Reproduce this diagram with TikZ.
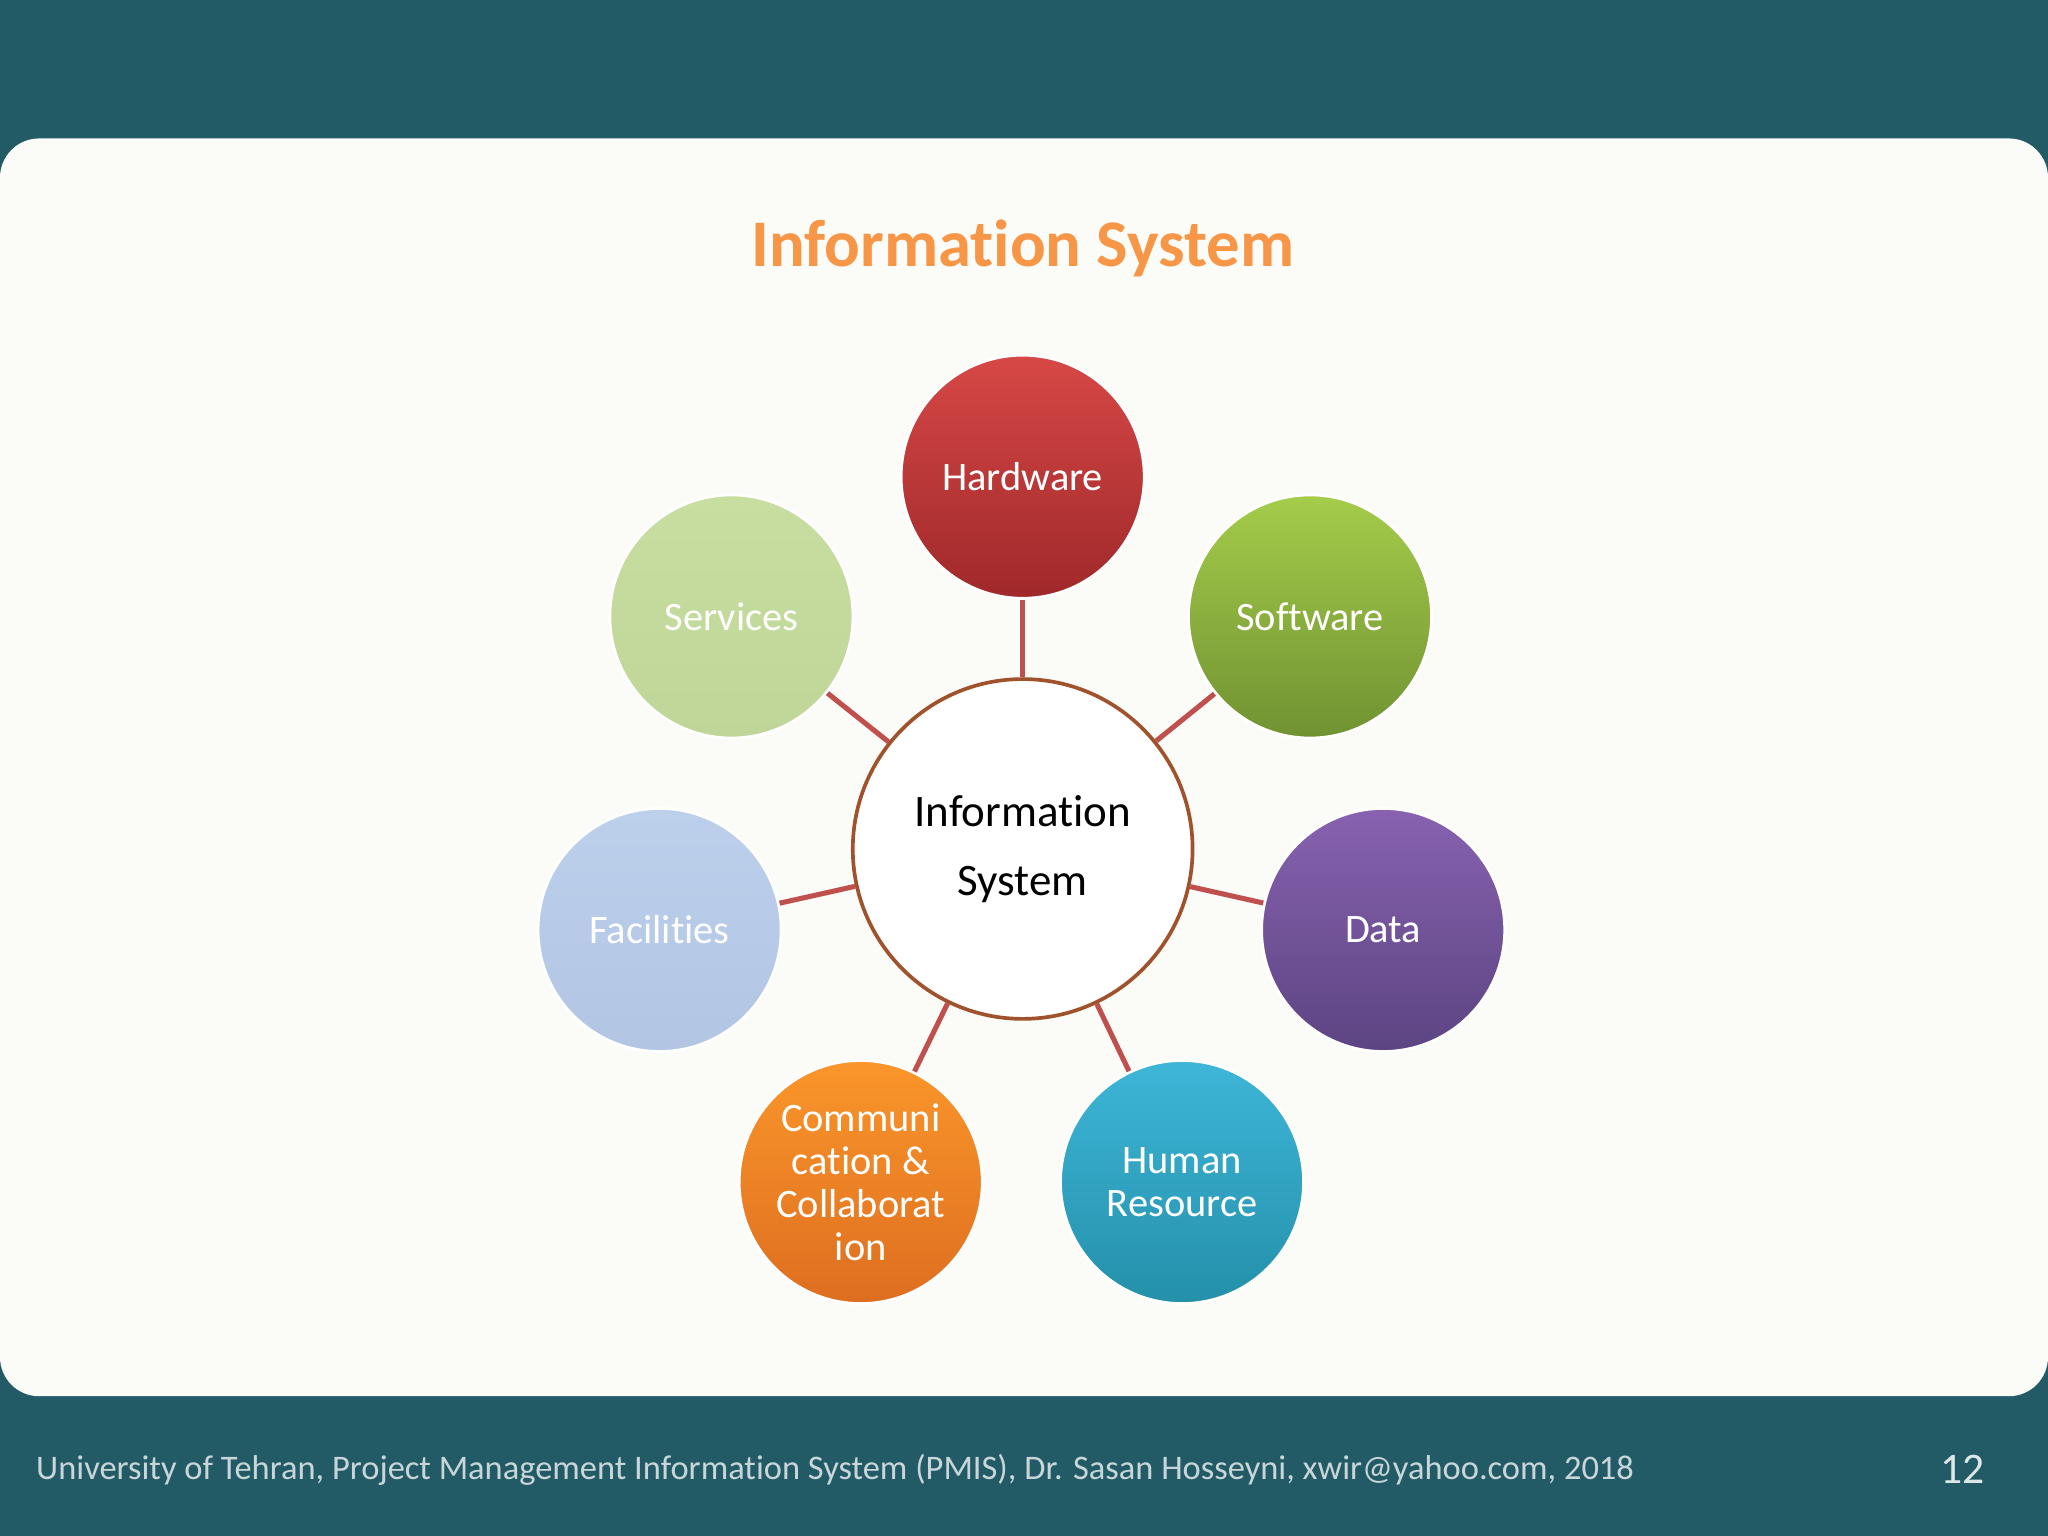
\documentclass[tikz,border=0pt]{standalone}
\usepackage{fontspec}
\setmainfont[RawFeature=-liga]{Carlito}
\definecolor{bgteal}{HTML}{225B66}
\definecolor{panel}{HTML}{FBFBF7}
\definecolor{ttl}{HTML}{F79646}
\definecolor{con}{HTML}{C0504D}
\definecolor{rim}{HTML}{A0522D}
\tikzset{
  ball/.style={circle,minimum size=1.86cm,inner sep=0pt,text=white,font=\fontsize{8.8}{9.4}\selectfont,align=center,draw=white,line width=0.6pt},
  link/.style={draw=con,line width=1.1pt}
}
\begin{document}
\begin{tikzpicture}[x=0.01cm,y=-0.01cm]
\useasboundingbox (0,0) rectangle (1568,1176);
\fill[bgteal] (0,0) rectangle (1568,1176);
\fill[panel,rounded corners=0.3cm] (0,106) rectangle (1568,1069);
\node[text=ttl,font=\fontsize{14.5}{17}\selectfont\bfseries] (title) at (783,190) {Information System};
\node[circle,minimum size=2.6cm,inner sep=0pt,draw=rim,line width=0.8pt,fill=white,align=center,font=\fontsize{9.8}{15}\selectfont] (c) at (783,650) {Information\\System};
\node[ball,top color={rgb,255:red,214;green,72;blue,70},bottom color={rgb,255:red,160;green,40;blue,42}] (hw) at (783,365) {Hardware};
\node[ball,top color={rgb,255:red,165;green,204;blue,74},bottom color={rgb,255:red,112;green,146;blue,50}] (sw) at (1003,472) {Software};
\node[ball,top color={rgb,255:red,136;green,98;blue,176},bottom color={rgb,255:red,92;green,68;blue,130}] (da) at (1059,712) {Data};
\node[ball,top color={rgb,255:red,62;green,182;blue,216},bottom color={rgb,255:red,36;green,144;blue,170}] (hr) at (905,905) {Human\\Resource};
\node[ball,top color={rgb,255:red,250;green,150;blue,42},bottom color={rgb,255:red,222;green,110;blue,32}] (cc) at (659,905) {Communi\\cation \&\\Collaborat\\ion};
\node[ball,top color={rgb,255:red,188;green,208;blue,236},bottom color={rgb,255:red,178;green,198;blue,228}] (fa) at (505,712) {Facilities};
\node[ball,top color={rgb,255:red,200;green,222;blue,160},bottom color={rgb,255:red,192;green,214;blue,152}] (se) at (560,472) {Services};
\foreach \n in {hw,sw,da,hr,cc,fa,se} \draw[link] (c) -- (\n);
\node[anchor=west,inner sep=0pt,text=white!75!bgteal,font=\fontsize{7.5}{9}\selectfont] (ft) at (27,1125) {University of Tehran, Project Management Information System (PMIS), Dr. Sasan Hosseyni, xwir@yahoo.com, 2018};
\node[anchor=east,inner sep=0pt,text=white!85!bgteal,font=\fontsize{9.5}{11}\selectfont] (pg) at (1520,1125) {12};
\end{tikzpicture}
\end{document}
